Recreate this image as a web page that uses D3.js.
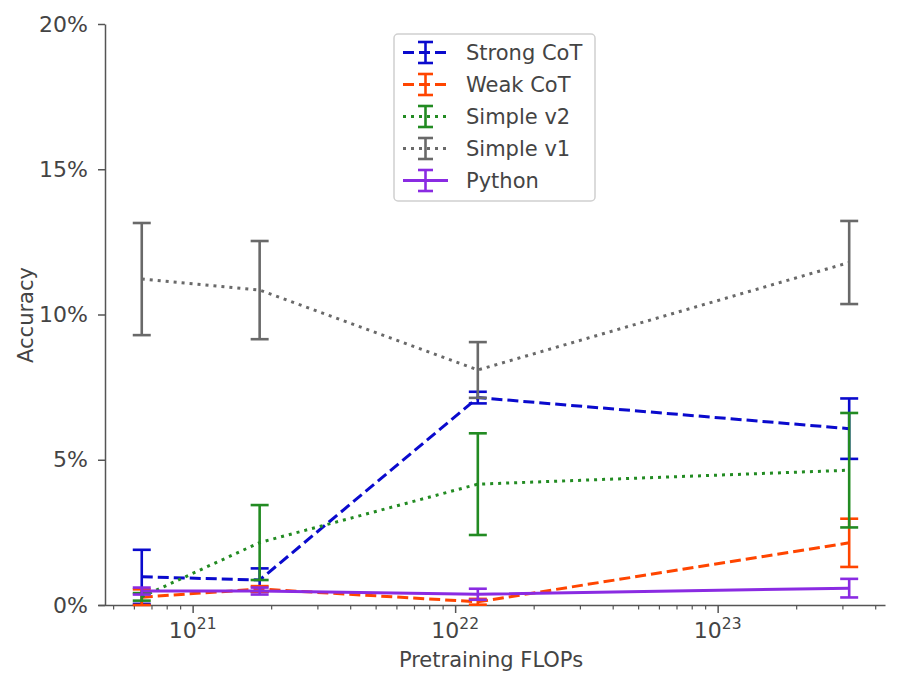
<!DOCTYPE html>
<html>
<head>
<meta charset="utf-8">
<script src="https://cdn.jsdelivr.net/npm/d3@7"></script>
<style>
  body { margin: 0; background: #fff; }
  text { font-family: "DejaVu Sans", sans-serif; fill: #444; }
</style>
</head>
<body>
<div id="chart"></div>
<script>
// data (accuracy in %)
const flops = [6.4e20, 1.8e21, 1.22e22, 3.17e23];

const strongCoT = [0.97, 0.86, 7.14, 6.07];
const strongCoTErr = [0.93, 0.40, 0.20, 1.04];

const weakCoT = [0.27, 0.55, 0.11, 2.14];
const weakCoTErr = [0.27, 0.10, 0.10, 0.83];

const simpleV2 = [0.28, 2.15, 4.16, 4.64];
const simpleV2Err = [0.13, 1.29, 1.75, 1.97];

const simpleV1 = [11.22, 10.84, 8.09, 11.79];
const simpleV1Err = [1.93, 1.69, 0.96, 1.43];

const python = [0.48, 0.48, 0.37, 0.58];
const pythonErr = [0.12, 0.12, 0.19, 0.32];

const yTicks = [0, 5, 10, 15, 20];
const xTicks = [1e21, 1e22, 1e23];

const series = [
    { name: "Strong CoT", values: strongCoT, err: strongCoTErr, color: "#0a0acd", dash: "11,5" },
    { name: "Weak CoT", values: weakCoT, err: weakCoTErr, color: "#ff4500", dash: "11,5" },
    { name: "Simple v2", values: simpleV2, err: simpleV2Err, color: "#228b22", dash: "3,5" },
    { name: "Simple v1", values: simpleV1, err: simpleV1Err, color: "#696969", dash: "3,5" },
    { name: "Python", values: python, err: pythonErr, color: "#8a2be2", dash: null }
];

const W = 901, H = 686;
const plotLeft = 105, plotBottom = 605, plotTop = 24;

const x = d3.scaleLog()
    .domain([4.36e20, 4.34e23])
    .range([98, 885]);

const y = d3.scaleLinear()
    .domain([0, 20])
    .range([plotBottom, plotTop]);

const svg = d3.select("#chart")
    .append("svg")
    .attr("width", W)
    .attr("height", H);

const axisColor = "#555";

// y axis
const yAxis = svg.append("g")
    .attr("transform", `translate(${plotLeft}, 0)`)
    .call(d3.axisLeft(y)
        .tickValues(yTicks)
        .tickSize(7)
        .tickSizeOuter(0)
        .tickPadding(10)
        .tickFormat(d => d + "%"));
yAxis.selectAll("path, line").style("stroke", axisColor).style("stroke-width", "1.5px");
yAxis.selectAll("text").style("font-size", "22px").style("font-family", "DejaVu Sans").style("fill", "#444");

// x axis (major ticks, labels drawn separately for superscripts)
const xAxis = svg.append("g")
    .attr("transform", `translate(0, ${plotBottom})`)
    .call(d3.axisBottom(x)
        .tickValues(xTicks)
        .tickSize(8)
        .tickSizeOuter(0)
        .tickFormat(""));
xAxis.selectAll("path, line").style("stroke", axisColor).style("stroke-width", "1.5px");

// minor ticks
const minor = [];
for (let e = 20; e <= 23; e++) {
    for (let k = 2; k <= 9; k++) {
        const v = k * Math.pow(10, e);
        if (v > x.domain()[0] && v < x.domain()[1]) minor.push(v);
    }
}
svg.append("g").selectAll("line")
    .data(minor)
    .enter().append("line")
    .attr("x1", d => x(d))
    .attr("x2", d => x(d))
    .attr("y1", plotBottom)
    .attr("y2", plotBottom + 4.5)
    .style("stroke", axisColor)
    .style("stroke-width", "1.2px");

// major tick labels 10^n
const xl = svg.append("g").selectAll("text")
    .data(xTicks)
    .enter().append("text")
    .attr("x", d => x(d))
    .attr("y", 638)
    .attr("text-anchor", "middle")
    .style("font-size", "22px");
xl.append("tspan").text("10");
xl.append("tspan")
    .attr("dy", -9)
    .style("font-size", "15.5px")
    .text(d => Math.round(Math.log10(d)));

// axis titles
svg.append("text")
    .attr("x", 491)
    .attr("y", 667)
    .attr("text-anchor", "middle")
    .style("font-size", "21px")
    .text("Pretraining FLOPs");

svg.append("text")
    .attr("transform", "rotate(-90)")
    .attr("x", -315)
    .attr("y", 33)
    .attr("text-anchor", "middle")
    .style("font-size", "21px")
    .text("Accuracy");

// lines with error bars
const line = d3.line()
    .x((d, i) => x(flops[i]))
    .y(d => y(d));

const capW = 9;

series.forEach(s => {
    svg.append("path")
        .datum(s.values)
        .attr("fill", "none")
        .attr("stroke", s.color)
        .attr("stroke-width", 3)
        .attr("stroke-dasharray", s.dash)
        .attr("d", line);

    const g = svg.append("g")
        .attr("stroke", s.color)
        .attr("stroke-width", 2.6);

    g.selectAll(".bar")
        .data(s.values)
        .enter().append("line")
        .attr("x1", (d, i) => x(flops[i]))
        .attr("x2", (d, i) => x(flops[i]))
        .attr("y1", (d, i) => y(Math.max(0, d - s.err[i])))
        .attr("y2", (d, i) => y(d + s.err[i]));

    g.selectAll(".capTop")
        .data(s.values)
        .enter().append("line")
        .attr("x1", (d, i) => x(flops[i]) - capW)
        .attr("x2", (d, i) => x(flops[i]) + capW)
        .attr("y1", (d, i) => y(d + s.err[i]))
        .attr("y2", (d, i) => y(d + s.err[i]));

    g.selectAll(".capBot")
        .data(s.values)
        .enter().append("line")
        .attr("x1", (d, i) => x(flops[i]) - capW)
        .attr("x2", (d, i) => x(flops[i]) + capW)
        .attr("y1", (d, i) => y(Math.max(0, d - s.err[i])))
        .attr("y2", (d, i) => y(Math.max(0, d - s.err[i])));
});

// legend
const lg = svg.append("g");
lg.append("rect")
    .attr("x", 394)
    .attr("y", 34)
    .attr("width", 201)
    .attr("height", 167)
    .attr("rx", 4)
    .attr("fill", "white")
    .attr("fill-opacity", 0.8)
    .attr("stroke", "#d0d0d0")
    .attr("stroke-width", 1.5);

series.forEach((s, i) => {
    const cy = 52.5 + i * 32;
    const row = lg.append("g");
    row.append("line")
        .attr("x1", 403).attr("x2", 448)
        .attr("y1", cy).attr("y2", cy)
        .attr("stroke", s.color)
        .attr("stroke-width", 3)
        .attr("stroke-dasharray", s.dash);
    row.append("line")
        .attr("x1", 425.5).attr("x2", 425.5)
        .attr("y1", cy - 10.5).attr("y2", cy + 10.5)
        .attr("stroke", s.color)
        .attr("stroke-width", 2.6);
    [cy - 10.5, cy + 10.5].forEach(yy => {
        row.append("line")
            .attr("x1", 418).attr("x2", 433)
            .attr("y1", yy).attr("y2", yy)
            .attr("stroke", s.color)
            .attr("stroke-width", 2.6);
    });
    row.append("text")
        .attr("x", 466)
        .attr("y", cy + 7.5)
        .style("font-size", "21px")
        .text(s.name);
});
</script>
</body>
</html>
